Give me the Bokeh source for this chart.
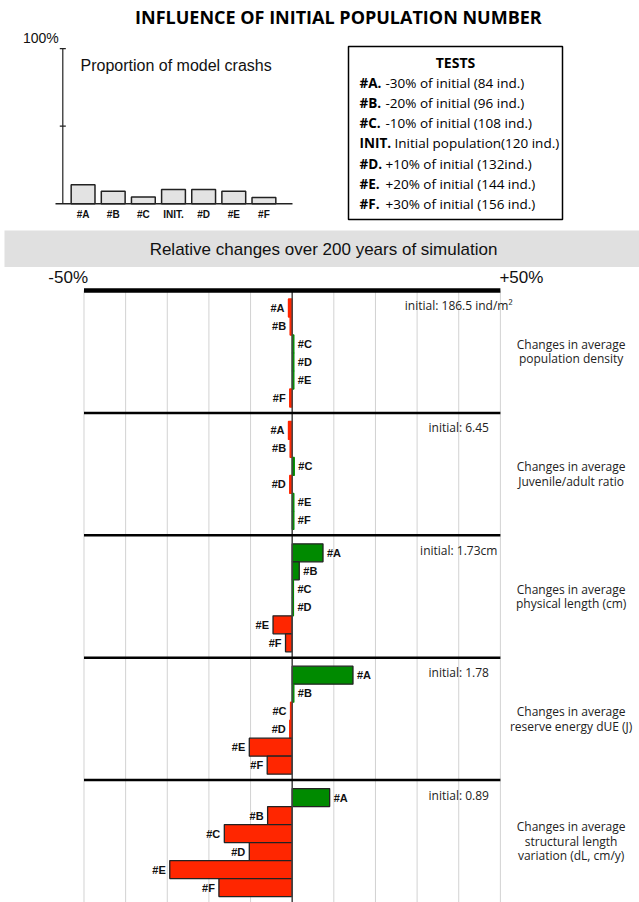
from bokeh.plotting import figure
from bokeh.models import Range1d, FactorRange, ColumnDataSource
from bokeh.layouts import column, row
from bokeh.embed import file_html
from bokeh.resources import INLINE
from bokeh.core.properties import value

# ---------------- data ----------------
tests = ["#A", "#B", "#C", "INIT.", "#D", "#E", "#F"]
crash_pct = [12.3, 8.1, 4.3, 9.2, 9.2, 8.1, 4.1]

legend_keys = ["#A.", "#B.", "#C.", "INIT.", "#D.", "#E.", "#F."]
legend_texts = ["-30% of initial (84 ind.)", "-20% of initial (96 ind.)",
                "-10% of initial (108 ind.)", "Initial population(120 ind.)",
                "+10% of initial (132ind.)", "+20% of initial (144 ind.)",
                "+30% of initial (156 ind.)"]

runs = ["#A", "#B", "#C", "#D", "#E", "#F"]
density = [-0.9, -0.5, 0.4, 0.4, 0.4, -0.6]
juv_ratio = [-0.9, -0.5, 0.5, -0.6, 0.4, 0.4]
phys_len = [7.4, 1.7, 0.3, 0.3, -4.6, -1.6]
reserve = [14.6, 0.4, -0.4, -0.6, -10.3, -6.0]
struct_len = [9.0, -5.9, -16.3, -10.3, -29.4, -17.6]

panel_initial = ["initial: 186.5 ind/m\u00b2", "initial: 6.45", "initial: 1.73cm",
                 "initial: 1.78", "initial: 0.89"]
panel_titles = [["Changes in average", "population density"],
                ["Changes in average", "Juvenile/adult ratio"],
                ["Changes in average", "physical length (cm)"],
                ["Changes in average", "reserve energy dUE (J)"],
                ["Changes in average", "structural length", "variation (dL, cm/y)"]]
axis_ticks = [-50, -40, -30, -20, -10, 0, 10, 20, 30, 40, 50]
crash_ticks = [50, 100]

RED = "#ff2600"
GREEN = "#008a00"
OS = value("Open Sans")
AR = value("Liberation Sans")

common = dict(output_backend="svg", toolbar_location=None, min_border=0,
              x_axis_location=None, y_axis_location=None)


def clean(fig):
    fig.grid.visible = False
    fig.outline_line_color = None
    return fig


# ---------------- title ----------------
tfig = clean(figure(width=639, height=28, x_range=Range1d(0, 639), y_range=Range1d(28, 0),
                    **common))
tfig.text(x=[336], y=[16], text=["INFLUENCE OF INITIAL POPULATION NUMBER"], text_font=OS,
          text_font_style="bold", text_font_size="18px", text_align="center",
          text_baseline="middle", text_color="black")

# ---------------- crash bar chart ----------------
PXU = 30.14                       # px per category
CPX = 1.55                        # px per percent
BF_W, BF_H = 346, 202
bf = clean(figure(width=BF_W, height=BF_H,
                  x_range=FactorRange(factors=tests, range_padding=2.24,
                                      range_padding_units="absolute"),
                  y_range=Range1d(-(BF_H - 175.3) / CPX, 100 + 20 / CPX), **common))
bf.vbar(x=tests, top=crash_pct, bottom=0, width=0.79, fill_color="#e3e3e3",
        line_color="#222222", line_width=1.5)
s0 = -2.24                         # synthetic coordinate of canvas left edge
x_base0, x_base1, x_yax = s0 + 55 / PXU, s0 + 292 / PXU, s0 + 62.3 / PXU
# baseline (x axis) and y axis
bf.segment(x0=[x_base0], x1=[x_base1], y0=[0], y1=[0], line_color="#222222", line_width=1.5)
bf.segment(x0=[x_yax], x1=[x_yax], y0=[0], y1=[100], line_color="#222222", line_width=1.2)
bf.segment(x0=[x_yax - 0.1] * 2, x1=[x_yax + 0.1] * 2, y0=crash_ticks, y1=crash_ticks,
           line_color="#222222", line_width=1.2)
bf.text(x=tests, y=[0] * len(tests), text=tests, y_offset=11, text_align="center",
        text_baseline="middle", text_font=AR, text_font_style="bold", text_font_size="10px",
        text_color="#111111")
bf.text(x=[x_yax], y=[100], text=["100%"], x_offset=-4, y_offset=-11, text_align="right",
        text_baseline="middle", text_font=AR, text_font_size="14px", text_color="#111111")
bf.text(x=[s0 + 80 / PXU], y=[89], text=["Proportion of model crashs"], text_align="left",
        text_baseline="middle", text_font=AR, text_font_size="16px", text_color="#111111")

# ---------------- legend box ----------------
lf = clean(figure(width=293, height=202, x_range=Range1d(0, 293), y_range=Range1d(202, 0),
                  **common))
lf.quad(left=[2], right=[216], top=[18], bottom=[191], fill_color=None,
        line_color="black", line_width=1.5)
lf.text(x=[109], y=[34], text=["TESTS"], text_font=OS, text_font_style="bold",
        text_font_size="14px", text_align="center", text_baseline="middle", text_color="black")
row_y = [54 + 20.3 * i for i in range(len(legend_keys))]
lf.text(x=[13] * len(legend_keys), y=row_y, text=legend_keys, text_font=OS,
        text_font_style="bold", text_font_size="13.5px", text_baseline="middle",
        text_color="black")
norm_x = [48 if k.startswith("INIT") else 39 for k in legend_keys]
lf.text(x=norm_x, y=row_y, text=legend_texts, text_font=OS, text_font_size="13.5px",
        text_baseline="middle", text_color="black")

# ---------------- gray band ----------------
gb = clean(figure(width=639, height=37, x_range=Range1d(0, 635), y_range=Range1d(37, 0),
                  background_fill_color="#e0e0e0", border_fill_color="white",
                  **dict(common, min_border_left=4)))
gb.text(x=[319], y=[19], text=["Relative changes over 200 years of simulation"], text_font=AR,
        text_font_size="17px", text_align="center", text_baseline="middle", text_color="#111111")

# ---------------- main panels ----------------
KPX = 4.19          # px per percent
SLOT = 18.0         # px per bar slot
H = 6.8             # panel height in slots
PAD = 8.5 / SLOT
x0 = -50 - 80 / KPX
mf = clean(figure(width=639, height=635, x_range=Range1d(x0, x0 + 639 / KPX),
                  y_range=Range1d(5 * H, -23 / SLOT), **common))

grid_x = [t for t in axis_ticks if t != 0]
mf.segment(x0=grid_x, x1=grid_x, y0=[0] * len(grid_x), y1=[5 * H] * len(grid_x),
           line_color="#d2d2d2", line_width=1)

panels = [density, juv_ratio, phys_len, reserve, struct_len]
ys, vals, cols, lcols, labs = [], [], [], [], []
for p, vs in enumerate(panels):
    for i, v in enumerate(vs):
        ys.append(p * H + PAD + i + 0.5)
        vals.append(v)
        cols.append(GREEN if v >= 0 else RED)
        lcols.append("#222222" if abs(v) >= 1 else (GREEN if v >= 0 else RED))
        labs.append(runs[i])
src = ColumnDataSource(dict(y=ys, v=vals, c=cols, lc=lcols, lab=labs,
                            al=["left" if v >= 0 else "right" for v in vals],
                            xo=[4 if v >= 0 else -4 for v in vals]))
mf.hbar(y="y", left=0, right="v", height=1, fill_color="c", line_color="lc",
        line_width=1.3, source=src)
mf.text(x="v", y="y", text="lab", x_offset="xo", text_align="al", text_baseline="middle",
        text_font=AR, text_font_style="bold", text_font_size="11px", text_color="#111111",
        source=src)

# zero line
mf.segment(x0=[0], x1=[0], y0=[0], y1=[5 * H], line_color="#444444", line_width=1.5)
# separators
sep_y = [p * H for p in range(1, 5)]
mf.segment(x0=[-50] * 4, x1=[50] * 4, y0=sep_y, y1=sep_y, line_color="black", line_width=2.5)
# top thick line
mf.segment(x0=[-50], x1=[50], y0=[0], y1=[0], line_color="black", line_width=4.5)
mf.text(x=[-50, 50], y=[0, 0], text=["-50%", "+50%"], x_offset=[4, -1], y_offset=-13,
        text_align=["right", "left"], text_baseline="middle", text_font=AR,
        text_font_size="17px", text_color="#111111")

# initial values
mf.text(x=[40] * 5, y=[p * H for p in range(5)], y_offset=15, text=panel_initial,
        text_font=OS, text_font_size="12px", text_align="center", text_baseline="middle",
        text_color="#222222")
# right side titles
tx, ty, tt, to = [], [], [], []
for p, lines in enumerate(panel_titles):
    n = len(lines)
    for j, s in enumerate(lines):
        tx.append(67)
        ty.append(p * H + H / 2)
        to.append((j - (n - 1) / 2) * 14.5)
        tt.append(s)
mf.text(x=tx, y=ty, y_offset=to, text=tt, text_font=OS, text_font_size="12px",
        text_align="center", text_baseline="middle", text_color="#222222")

layout = column(tfig, row(bf, lf, spacing=0), gb, mf, spacing=0)
open("out.html", "w").write(file_html(layout, INLINE))
